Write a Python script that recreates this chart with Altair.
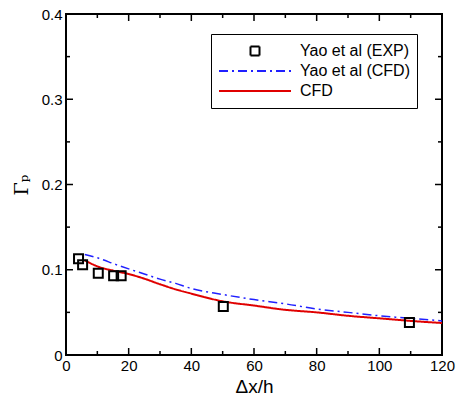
import altair as alt
import pandas as pd

# ---------------- data ----------------
series_names = ["Yao et al (EXP)", "Yao et al (CFD)", "CFD"]

exp_x = [4.0, 5.3, 10.3, 15.2, 17.6, 50.2, 109.6]
exp_y = [0.113, 0.106, 0.096, 0.093, 0.093, 0.057, 0.038]

yao_cfd_x = [6, 10, 16, 20, 25, 30, 35, 40, 50, 60, 70, 80, 90, 100, 110, 120]
yao_cfd_y = [0.118, 0.114, 0.106, 0.101, 0.095, 0.089, 0.084, 0.078, 0.071,
             0.065, 0.060, 0.054, 0.050, 0.046, 0.043, 0.040]

cfd_x = [6, 10, 15, 20, 25, 30, 35, 40, 50, 60, 70, 80, 90, 100, 110, 120]
cfd_y = [0.111, 0.104, 0.099, 0.095, 0.0895, 0.083, 0.077, 0.072, 0.063,
         0.058, 0.053, 0.050, 0.046, 0.043, 0.040, 0.0375]

x_major = [0, 20, 40, 60, 80, 100, 120]
x_minor = [10, 30, 50, 70, 90, 110]
y_major = [0, 0.1, 0.2, 0.3, 0.4]
y_minor = [0.05, 0.15, 0.25, 0.35]

x_title = "Δx/h"
y_title = "Γₚ"

exp_df = pd.DataFrame({"x": exp_x, "y": exp_y, "series": series_names[0]})
yao_df = pd.DataFrame({"x": yao_cfd_x, "y": yao_cfd_y, "series": series_names[1]})
cfd_df = pd.DataFrame({"x": cfd_x, "y": cfd_y, "series": series_names[2]})

# ---------------- styles ----------------
FONT = "Liberation Sans"
W, H = 376, 341
X_DOM, Y_DOM = [0, 120], [0, 0.4]
MAJ_PX, MIN_PX = 7, 4
sq_path = "M-0.125,-0.125H0.125V0.125H-0.125Z"
ln_path = "M-1,0H1"

xs = alt.Scale(domain=X_DOM, nice=False, zero=False)
ys = alt.Scale(domain=Y_DOM, nice=False, zero=False)
color_scale = alt.Scale(domain=series_names, range=["black", "#2020ff", "#e00000"])
shape_scale = alt.Scale(domain=series_names, range=[sq_path, ln_path, ln_path])
dash_scale = alt.Scale(domain=series_names, range=[[1, 0], [9, 4, 2, 4], [1, 0]])
leg = alt.Legend(title=None)

x_axis = alt.Axis(orient="bottom", values=x_major, format="d", labelFont=FONT,
                  labelFontSize=15, labelColor="black", labelPadding=3,
                  labelFlush=False, ticks=False, tickSize=0, domain=False,
                  grid=False, title=x_title, titleFont=FONT, titleFontSize=19,
                  titleFontWeight="normal", titleColor="black", titlePadding=4)
y_axis = alt.Axis(orient="left", values=y_major, format=".1~f",
                  labelFont=FONT, labelFontSize=15, labelColor="black",
                  labelPadding=4, labelFlush=False,
                  ticks=False, tickSize=0, domain=False, grid=False,
                  title=y_title, titleFont="DejaVu Serif", titleFontSize=19,
                  titleFontWeight="normal", titleColor="black", titlePadding=10)

# ---------------- inward ticks on all four sides (from the tick value arrays) ----------------
ux = (X_DOM[1] - X_DOM[0]) / W   # data units per pixel along x
uy = (Y_DOM[1] - Y_DOM[0]) / H   # data units per pixel along y


def x_tick_layer(values, px, top):
    a = Y_DOM[1] if top else Y_DOM[0]
    b = a - px * uy if top else a + px * uy
    df = pd.DataFrame({"v": values, "a": a, "b": b})
    return alt.Chart(df).mark_rule(color="black", strokeWidth=1.5).encode(
        x=alt.X("v:Q", scale=xs, axis=x_axis),
        y=alt.Y("a:Q", scale=ys, axis=y_axis),
        y2="b:Q",
    )


def y_tick_layer(values, px, right):
    a = X_DOM[1] if right else X_DOM[0]
    b = a - px * ux if right else a + px * ux
    df = pd.DataFrame({"v": values, "a": a, "b": b})
    return alt.Chart(df).mark_rule(color="black", strokeWidth=1.5).encode(
        y=alt.Y("v:Q", scale=ys, axis=y_axis),
        x=alt.X("a:Q", scale=xs, axis=x_axis),
        x2="b:Q",
    )


tick_layers = [
    x_tick_layer(x_major, MAJ_PX, False), x_tick_layer(x_minor, MIN_PX, False),
    x_tick_layer(x_major, MAJ_PX, True), x_tick_layer(x_minor, MIN_PX, True),
    y_tick_layer(y_major, MAJ_PX, False), y_tick_layer(y_minor, MIN_PX, False),
    y_tick_layer(y_major, MAJ_PX, True), y_tick_layer(y_minor, MIN_PX, True),
]

# ---------------- data layers ----------------
blue_line = alt.Chart(yao_df).mark_line(strokeWidth=1.5, interpolate="monotone").encode(
    x=alt.X("x:Q", scale=xs, axis=x_axis),
    y=alt.Y("y:Q", scale=ys, axis=y_axis),
    color=alt.Color("series:N", scale=color_scale, legend=leg),
    strokeDash=alt.StrokeDash("series:N", scale=dash_scale, legend=leg),
)

red_line = alt.Chart(cfd_df).mark_line(strokeWidth=2, interpolate="monotone").encode(
    x=alt.X("x:Q", scale=xs, axis=x_axis),
    y=alt.Y("y:Q", scale=ys, axis=y_axis),
    color=alt.Color("series:N", scale=color_scale, legend=leg),
    strokeDash=alt.StrokeDash("series:N", scale=dash_scale, legend=leg),
)

points = alt.Chart(exp_df).mark_point(filled=False, size=5184, strokeWidth=2, opacity=1).encode(
    x=alt.X("x:Q", scale=xs, axis=x_axis),
    y=alt.Y("y:Q", scale=ys, axis=y_axis),
    color=alt.Color("series:N", scale=color_scale, legend=leg),
    shape=alt.Shape("series:N", scale=shape_scale, legend=leg),
)

chart = alt.layer(
    blue_line, red_line, points, *tick_layers
).properties(
    width=W, height=H,
    padding={"left": 66, "top": 14, "right": 15, "bottom": 50},
    autosize=alt.AutoSizeParams(type="none"),
).configure_view(
    stroke="black", strokeWidth=2
).configure_legend(
    orient="none", legendX=145, legendY=20, padding=7,
    strokeColor="black", fillColor="white",
    labelFont=FONT, labelFontSize=16, labelColor="black", labelOffset=8,
    labelLimit=400, symbolSize=5184, symbolStrokeWidth=2,
    clipHeight=20, rowPadding=0,
)

chart.save("out.html", embed_options={"renderer": "svg", "actions": False})
